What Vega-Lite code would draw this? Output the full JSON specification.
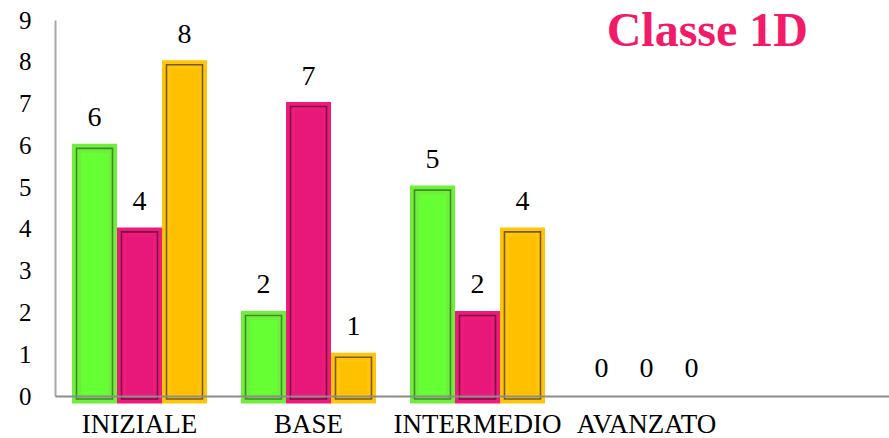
{
  "$schema": "https://vega.github.io/schema/vega-lite/v6.json",
  "width": 834,
  "height": 376,
  "autosize": "none",
  "padding": {"left": 55, "top": 20, "right": 0, "bottom": 42},
  "title": {
    "text": "Classe 1D",
    "anchor": "end",
    "frame": "group",
    "orient": "top",
    "offset": 0,
    "dx": -81,
    "dy": 48,
    "baseline": "top",
    "font": "Liberation Serif, serif",
    "fontWeight": "bold",
    "fontSize": 48,
    "color": "#f41a6a"
  },
  "data": {
    "values": [
      {"livello": "INIZIALE", "serie": "Serie 1", "valore": 6},
      {"livello": "INIZIALE", "serie": "Serie 2", "valore": 4},
      {"livello": "INIZIALE", "serie": "Serie 3", "valore": 8},
      {"livello": "BASE", "serie": "Serie 1", "valore": 2},
      {"livello": "BASE", "serie": "Serie 2", "valore": 7},
      {"livello": "BASE", "serie": "Serie 3", "valore": 1},
      {"livello": "INTERMEDIO", "serie": "Serie 1", "valore": 5},
      {"livello": "INTERMEDIO", "serie": "Serie 2", "valore": 2},
      {"livello": "INTERMEDIO", "serie": "Serie 3", "valore": 4},
      {"livello": "AVANZATO", "serie": "Serie 1", "valore": 0},
      {"livello": "AVANZATO", "serie": "Serie 2", "valore": 0},
      {"livello": "AVANZATO", "serie": "Serie 3", "valore": 0}
    ]
  },
  "encoding": {
    "x": {
      "field": "livello",
      "type": "nominal",
      "sort": ["INIZIALE", "BASE", "INTERMEDIO", "AVANZATO"],
      "scale": {"paddingInner": 0, "paddingOuter": 0.4675, "align": 0},
      "axis": {
        "title": null,
        "labelAngle": 0,
        "ticks": false,
        "domainColor": "#8c8c8c",
        "domainWidth": 2,
        "labelFont": "Liberation Serif, serif",
        "labelFontSize": 27,
        "labelColor": "#000000",
        "labelPadding": 15,
        "zindex": 1
      }
    },
    "xOffset": {
      "field": "serie",
      "type": "nominal",
      "scale": {"paddingInner": 0.2, "paddingOuter": 0.478}
    },
    "y": {
      "field": "valore",
      "type": "quantitative",
      "scale": {"domain": [0, 9]},
      "axis": {
        "title": null,
        "ticks": false,
        "grid": false,
        "values": [0, 1, 2, 3, 4, 5, 6, 7, 8, 9],
        "domainColor": "#a6a6a6",
        "domainWidth": 2,
        "labelFont": "Liberation Serif, serif",
        "labelFontSize": 25,
        "labelColor": "#000000",
        "labelPadding": 24
      }
    }
  },
  "layer": [
    {
      "transform": [{"filter": "datum.valore > 0"}],
      "mark": {"type": "bar", "strokeWidth": 9, "yOffset": 3, "y2Offset": -3},
      "encoding": {
        "color": {
          "field": "serie",
          "type": "nominal",
          "scale": {"domain": ["Serie 1", "Serie 2", "Serie 3"], "range": ["#66ff33", "#e8177a", "#ffc000"]},
          "legend": null
        },
        "stroke": {
          "field": "serie",
          "type": "nominal",
          "scale": {"domain": ["Serie 1", "Serie 2", "Serie 3"], "range": ["#70ee3c", "#ee1a7c", "#ffc40c"]},
          "legend": null
        }
      }
    },
    {
      "transform": [{"filter": "datum.valore > 0"}],
      "mark": {"type": "bar", "fillOpacity": 0, "strokeWidth": 1.6, "yOffset": 3, "y2Offset": -3},
      "encoding": {
        "stroke": {
          "field": "serie",
          "type": "nominal",
          "scale": {"domain": ["Serie 1", "Serie 2", "Serie 3"], "range": ["#3c8c2a", "#7a0e40", "#7a5a10"]},
          "legend": null
        }
      }
    },
    {
      "mark": {"type": "text", "font": "Liberation Serif, serif", "fontSize": 28, "baseline": "alphabetic", "dy": -19, "color": "#000000"},
      "encoding": {
        "text": {"field": "valore", "type": "quantitative"}
      }
    }
  ],
  "resolve": {"scale": {"stroke": "independent"}},
  "config": {"view": {"stroke": null}, "background": "#ffffff"}
}
